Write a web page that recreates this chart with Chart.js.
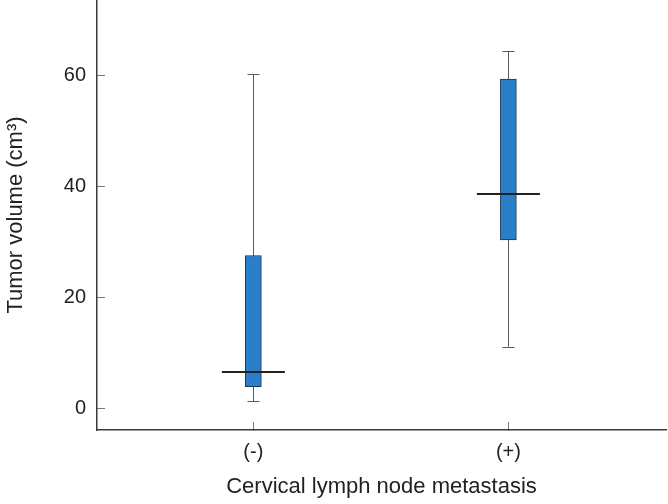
<!DOCTYPE html>
<html>
<head>
<meta charset="utf-8">
<script src="https://cdn.jsdelivr.net/npm/chart.js@4/dist/chart.umd.min.js"></script>
<style>
    html, body { margin: 0; padding: 0; background: #fff; }
    #wrap { width: 668px; height: 504px; }
</style>
</head>
<body>
<div id="wrap"><canvas id="grafico" width="668" height="504"></canvas></div>
<script>
// Datos del diagrama de caja
const categories = ['(-)', '(+)'];
const whiskerMin = [1.4, 11.2];
const q1 = [4.0, 30.4];
const median = [6.6, 38.7];
const q3 = [27.6, 59.3];
const whiskerMax = [60.2, 64.4];
const yTicks = [0, 20, 40, 60];

const FONT = 'Liberation Sans, Arial, Helvetica, sans-serif';

// Bigotes (detrás de la caja) y mediana (encima)
const boxPlugin = {
    id: 'boxPlot',
    beforeDatasetsDraw(chart) {
        const { ctx, scales: { x, y } } = chart;
        ctx.save();
        ctx.strokeStyle = '#5a5a5a';
        ctx.lineWidth = 1;
        categories.forEach((c, i) => {
            const px = Math.round(x.getPixelForValue(i + 1)) + 0.5;
            ctx.beginPath();
            ctx.moveTo(px, y.getPixelForValue(whiskerMin[i]));
            ctx.lineTo(px, y.getPixelForValue(whiskerMax[i]));
            [whiskerMin[i], whiskerMax[i]].forEach(v => {
                const py = Math.round(y.getPixelForValue(v)) + 0.5;
                ctx.moveTo(px - 6, py);
                ctx.lineTo(px + 6, py);
            });
            ctx.stroke();
        });
        ctx.restore();
    },
    afterDatasetsDraw(chart) {
        const { ctx, scales: { x, y } } = chart;
        ctx.save();
        ctx.strokeStyle = '#222';
        ctx.lineWidth = 2;
        categories.forEach((c, i) => {
            const px = x.getPixelForValue(i + 1);
            const py = Math.round(y.getPixelForValue(median[i]));
            ctx.beginPath();
            ctx.moveTo(px - 31.5, py);
            ctx.lineTo(px + 31.5, py);
            ctx.stroke();
        });
        ctx.restore();
    }
};

const ctx = document.getElementById('grafico');
new Chart(ctx, {
    type: 'bar',
    data: {
        datasets: [{
            data: categories.map((c, i) => ({ x: i + 1, y: [q1[i], q3[i]] })),
            backgroundColor: '#2a7fca',
            borderColor: '#1c3553',
            borderWidth: 1,
            borderSkipped: false,
            barThickness: 16
        }]
    },
    options: {
        responsive: false,
        animation: false,
        layout: { padding: { top: 0, right: 2, bottom: 0, left: 0 } },
        plugins: {
            legend: { display: false },
            tooltip: { enabled: false }
        },
        scales: {
            x: {
                type: 'linear',
                position: 'bottom',
                offset: false,
                min: 0.387,
                max: 2.618,
                afterBuildTicks: s => { s.ticks = categories.map((c, i) => ({ value: i + 1 })); },
                afterFit: s => { s.paddingLeft = 0; s.paddingRight = 0; s.height = 74; },
                ticks: {
                    callback: v => categories[Math.round(v) - 1],
                    font: { family: FONT, size: 20 },
                    color: '#222',
                    padding: 18,
                    maxRotation: 0,
                    autoSkip: false
                },
                grid: { offset: false, drawOnChartArea: false, tickLength: -8, color: '#777', tickWidth: 1 },
                border: { color: '#3a3a3a', width: 1.5 },
                title: {
                    display: true,
                    text: 'Cervical lymph node metastasis',
                    font: { family: FONT, size: 22 },
                    color: '#222',
                    padding: { top: 0, bottom: 4 }
                }
            },
            y: {
                min: -3.78,
                max: 73.54,
                afterBuildTicks: s => { s.ticks = yTicks.map(v => ({ value: v })); },
                afterFit: s => { s.paddingTop = 0; s.paddingBottom = 0; s.width = 97; },
                ticks: {
                    font: { family: FONT, size: 20 },
                    color: '#222',
                    padding: 19
                },
                grid: { drawOnChartArea: false, tickLength: -8, color: '#777', tickWidth: 1 },
                border: { color: '#3a3a3a', width: 1.5 },
                title: {
                    display: true,
                    text: 'Tumor volume (cm³)',
                    font: { family: FONT, size: 22 },
                    color: '#222',
                    padding: { top: 2.5, bottom: 0 }
                }
            }
        }
    },
    plugins: [boxPlugin]
});
</script>
</body>
</html>
